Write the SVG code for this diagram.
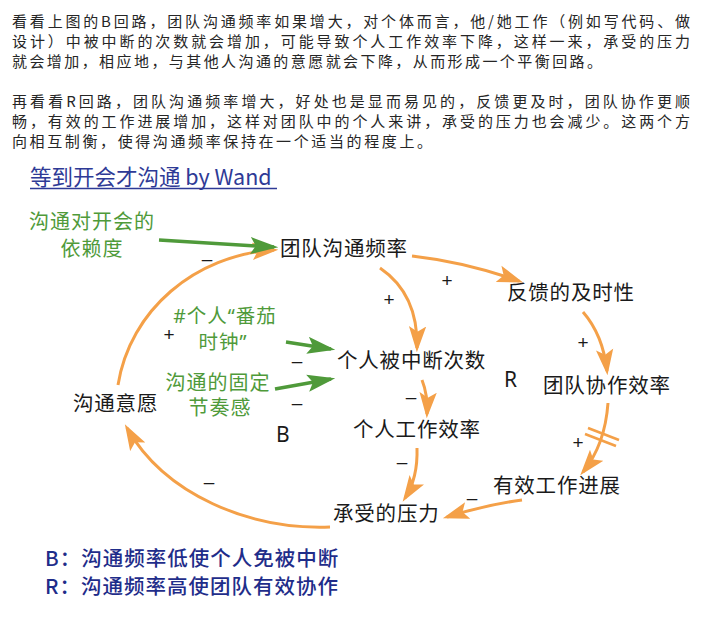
<svg xmlns="http://www.w3.org/2000/svg" width="701" height="628" viewBox="0 0 701 628">
<style>
.para{font-family:"Noto Sans CJK SC","Noto Sans",sans-serif;font-size:15px;fill:#262626}
.node{font-family:"Noto Sans CJK SC","Noto Sans",sans-serif;font-size:20.5px;fill:#1a1a1a;letter-spacing:0.8px}
.green{font-family:"Noto Sans","Noto Sans CJK SC",sans-serif;font-size:20px;fill:#4f9a3a;text-anchor:middle;letter-spacing:1px}
.sign{font-family:"Liberation Sans",sans-serif;font-size:19px;fill:#1a1a1a;text-anchor:middle}
.loop{font-family:"Noto Sans","Noto Sans CJK SC",sans-serif;font-size:21px;fill:#1a1a1a}
.title{font-family:"Noto Sans CJK SC","Noto Sans",sans-serif;font-size:21.5px;fill:#2e3a96}
.legend{font-family:"Noto Sans CJK SC","Noto Sans",sans-serif;font-size:20.5px;fill:#1f2d8a;letter-spacing:1px;font-weight:500}
.oc{fill:none;stroke:#f4a048;stroke-width:3}
.gc{fill:none;stroke:#4f9a3a;stroke-width:3.5}
</style>
<defs>
<marker id="ah-o" markerUnits="userSpaceOnUse" markerWidth="26" markerHeight="18" viewBox="0 0 24 16" refX="20" refY="8" orient="auto">
<path d="M0,0 L24,8 L0,16 L5,8 Z" fill="#f4a048"/>
</marker>
<marker id="ah-g" markerUnits="userSpaceOnUse" markerWidth="28" markerHeight="18" viewBox="0 0 26 16" refX="22" refY="8" orient="auto">
<path d="M0,0 L26,8 L0,16 L5,8 Z" fill="#4f9a3a"/>
</marker>
</defs>
<rect width="701" height="628" fill="#ffffff"/>

<g id="paragraphs">
<text class="para" x="12" y="27" textLength="678" lengthAdjust="spacing">看看上图的B回路，团队沟通频率如果增大，对个体而言，他/她工作（例如写代码、做</text>
<text class="para" x="12" y="47" textLength="678" lengthAdjust="spacing">设计）中被中断的次数就会增加，可能导致个人工作效率下降，这样一来，承受的压力</text>
<text class="para" x="12" y="67" textLength="590" lengthAdjust="spacing">就会增加，相应地，与其他人沟通的意愿就会下降，从而形成一个平衡回路。</text>
<text class="para" x="12" y="107" textLength="678" lengthAdjust="spacing">再看看R回路，团队沟通频率增大，好处也是显而易见的，反馈更及时，团队协作更顺</text>
<text class="para" x="12" y="127" textLength="678" lengthAdjust="spacing">畅，有效的工作进展增加，这样对团队中的个人来讲，承受的压力也会减少。这两个方</text>
<text class="para" x="12" y="147" textLength="420" lengthAdjust="spacing">向相互制衡，使得沟通频率保持在一个适当的程度上。</text>
</g>

<g id="title">
<text class="title" x="30" y="185">等到开会才沟通 by Wand</text>
<line x1="30" y1="188.5" x2="277" y2="188.5" stroke="#2e3a96" stroke-width="1.5"/>
</g>

<g id="connectors">
<path class="oc" d="M118,385 C130,310 195,255 274,250" marker-end="url(#ah-o)"/>
<path class="oc" d="M330,527 C250,530 165,495 127,428" marker-end="url(#ah-o)"/>
<path class="oc" d="M380,268 C405,285 418,310 417,348" marker-end="url(#ah-o)"/>
<path class="oc" d="M412,256 Q465,262 519,281" marker-end="url(#ah-o)"/>
<path class="oc" d="M583,312 Q603,335 607,371" marker-end="url(#ah-o)"/>
<path class="oc" d="M422,380 Q428,395 427,414" marker-end="url(#ah-o)"/>
<path class="oc" d="M417,448 Q418,478 405,498" marker-end="url(#ah-o)"/>
<path class="oc" d="M608,403 Q605,445 583,472" marker-end="url(#ah-o)"/>
<path class="oc" d="M522,500 Q485,505 447,517" marker-end="url(#ah-o)"/>
<line x1="588" y1="428" x2="619" y2="440" stroke="#f4a048" stroke-width="2.5"/>
<line x1="585" y1="434" x2="616" y2="446" stroke="#f4a048" stroke-width="2.5"/>
<path class="gc" d="M159,240 L274,247" marker-end="url(#ah-g)"/>
<path class="gc" d="M286,342 L331,349" marker-end="url(#ah-g)"/>
<path class="gc" d="M275,389 L331,379" marker-end="url(#ah-g)"/>
</g>

<g id="signs">
<text class="sign" x="207" y="265">–</text>
<text class="sign" x="169" y="341">+</text>
<text class="sign" x="297" y="367">–</text>
<text class="sign" x="297" y="409">–</text>
<text class="sign" x="389" y="306">+</text>
<text class="sign" x="447" y="287">+</text>
<text class="sign" x="583" y="349">+</text>
<text class="sign" x="411" y="403">–</text>
<text class="sign" x="402" y="468">–</text>
<text class="sign" x="209" y="488">–</text>
<text class="sign" x="578" y="449">+</text>
<text class="sign" x="472" y="504">–</text>
</g>

<g id="node-team-freq"><text class="node" x="280" y="256">团队沟通频率</text></g>
<g id="node-feedback"><text class="node" x="507" y="300">反馈的及时性</text></g>
<g id="node-interrupt"><text class="node" x="337" y="368">个人被中断次数</text></g>
<g id="node-team-eff"><text class="node" x="543" y="393">团队协作效率</text></g>
<g id="node-willing"><text class="node" x="73" y="411">沟通意愿</text></g>
<g id="node-personal-eff"><text class="node" x="353" y="437">个人工作效率</text></g>
<g id="node-progress"><text class="node" x="493" y="493">有效工作进展</text></g>
<g id="node-pressure"><text class="node" x="333" y="521">承受的压力</text></g>

<g id="node-meeting-dep">
<text class="green" x="92" y="229">沟通对开会的</text>
<text class="green" x="92" y="256">依赖度</text>
</g>
<g id="node-pomodoro">
<text class="green" x="225" y="323" style="font-size:19.5px">#个人“番茄</text>
<text class="green" x="223" y="349" style="font-size:19.5px">时钟”</text>
</g>
<g id="node-rhythm">
<text class="green" x="218" y="390">沟通的固定</text>
<text class="green" x="220" y="415">节奏感</text>
</g>

<g id="loop-labels">
<text class="loop" x="504" y="387">R</text>
<text class="loop" x="276" y="442">B</text>
</g>

<g id="legend">
<text class="legend" x="45" y="566">B：沟通频率低使个人免被中断</text>
<text class="legend" x="45" y="594">R：沟通频率高使团队有效协作</text>
</g>
</svg>
